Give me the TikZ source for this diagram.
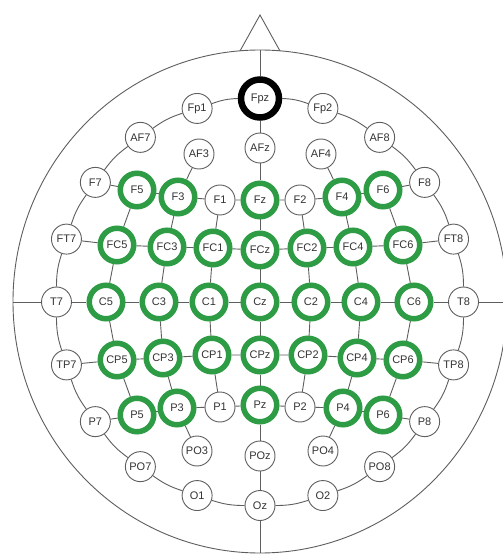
\documentclass[tikz,border=0pt]{standalone}
\usepackage{fontspec}
\setmainfont{Liberation Sans}
\usepackage{tikz}
\usetikzlibrary{positioning,backgrounds}
\definecolor{cline}{HTML}{5E5E5E}
\definecolor{cgreen}{HTML}{2E9B45}
\definecolor{ctext}{HTML}{333333}

\begin{document}
\begin{tikzpicture}[x=1pt,y=1pt,
    font=\fontsize{11}{11}\selectfont,
    elec/.style={circle,draw=cline,line width=0.9pt,fill=white,text=ctext,
                 minimum size=30pt,inner sep=0pt},
    act/.style={elec,draw=cgreen,line width=5.5pt,minimum size=33.5pt},
    refel/.style={elec,draw=black,line width=6.5pt,minimum size=38pt},
    wire/.style={draw=cline,line width=0.9pt}]
    \useasboundingbox (-260,-252) rectangle (243,302);
    % outer ring, 18 degrees apart
    \foreach \el/\ang/\st in {Fpz/90/refel,Fp1/108/elec,AF7/126/elec,F7/144/elec,
        FT7/162/elec,T7/180/elec,TP7/198/elec,P7/216/elec,PO7/234/elec,O1/252/elec,
        Oz/270/elec,O2/288/elec,PO8/306/elec,P8/324/elec,TP8/342/elec,T8/0/elec,
        FT8/18/elec,F8/36/elec,AF8/54/elec,Fp2/72/elec}
      \node[\st] (\el) at (\ang:203.5) {\el};
    % inner electrodes
    \foreach \el/\x/\y/\st in {AF3/-61/148/elec,AFz/0/154/elec,AF4/61/148/elec,
        F5/-123/112/act,F3/-82/105/act,F1/-40/102/elec,Fz/0/102/act,
        F2/40/102/elec,F4/82/105/act,F6/123/112/act,
        FC5/-143/57/act,FC3/-93/55/act,FC1/-47/54/act,FCz/0/52/act,
        FC2/47/54/act,FC4/93/55/act,FC6/143/57/act,
        C5/-154/0/act,C3/-101/0/act,C1/-51/0/act,Cz/0/0/act,
        C2/51/0/act,C4/101/0/act,C6/154/0/act,
        CP5/-143/-58/act,CP3/-97/-56/act,CP1/-48/-53/act,CPz/0/-53/act,
        CP2/48/-53/act,CP4/97/-56/act,CP6/143/-58/act,
        P5/-123/-113/act,P3/-83/-106/act,P1/-40/-105/elec,Pz/0/-103/act,
        P2/40/-105/elec,P4/83/-106/act,P6/123/-113/act,
        PO3/-63/-149/elec,POz/0/-154/elec,PO4/63/-149/elec}
      \node[\st] (\el) at (\x,\y) {\el};
    \begin{scope}[on background layer]
      \fill[white] (-260,-252) rectangle (243,302);
      % head and nose
      \draw[wire] (0,0.5) ellipse[x radius=247,y radius=251.5];
      \draw[wire] (-20,251) -- (0,287) -- (20,251);
      \coordinate (nasion) at (0,251.5);
      \coordinate (inion)  at (0,-251);
      \coordinate (lear)   at (-247,0);
      \coordinate (rear)   at (247,0);
      % midline and rows
      \draw[wire] (nasion) -- (Fpz) -- (AFz) -- (Fz) -- (FCz) -- (Cz) -- (CPz)
                  -- (Pz) -- (POz) -- (Oz) -- (inion);
      \draw[wire] (lear) -- (T7) -- (C5) -- (C3) -- (C1) -- (Cz) -- (C2) -- (C4)
                  -- (C6) -- (T8) -- (rear);
      \draw[wire] (F7) -- (F5) -- (F3) -- (F1) -- (Fz) -- (F2) -- (F4) -- (F6) -- (F8);
      \draw[wire] (FT7) -- (FC5) -- (FC3) -- (FC1) -- (FCz) -- (FC2) -- (FC4)
                  -- (FC6) -- (FT8);
      \draw[wire] (TP7) -- (CP5) -- (CP3) -- (CP1) -- (CPz) -- (CP2) -- (CP4)
                  -- (CP6) -- (TP8);
      \draw[wire] (P7) -- (P5) -- (P3) -- (P1) -- (Pz) -- (P2) -- (P4) -- (P6) -- (P8);
      % columns
      \draw[wire] (AF3) -- (F3) -- (FC3) -- (C3) -- (CP3) -- (P3) -- (PO3);
      \draw[wire] (AF4) -- (F4) -- (FC4) -- (C4) -- (CP4) -- (P4) -- (PO4);
      \draw[wire] (F5) -- (FC5) -- (C5) -- (CP5) -- (P5);
      \draw[wire] (F6) -- (FC6) -- (C6) -- (CP6) -- (P6);
      \draw[wire] (F1) -- (FC1) -- (C1) -- (CP1) -- (P1);
      \draw[wire] (F2) -- (FC2) -- (C2) -- (CP2) -- (P2);
      % ring arcs
      \foreach \a/\b in {Fpz/Fp1,Fp1/AF7,AF7/F7,F7/FT7,FT7/T7,T7/TP7,TP7/P7,
          P7/PO7,PO7/O1,O1/Oz,Oz/O2,O2/PO8,PO8/P8,P8/TP8,TP8/T8,T8/FT8,
          FT8/F8,F8/AF8,AF8/Fp2,Fp2/Fpz}
        \draw[wire] (\a) to[bend right=9] (\b);
    \end{scope}
\end{tikzpicture}
\end{document}
